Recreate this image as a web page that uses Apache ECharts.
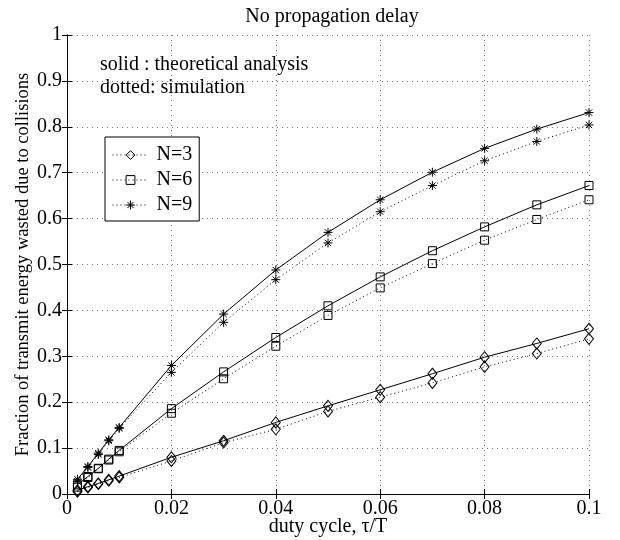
<!DOCTYPE html>
<html>
<head>
<meta charset="utf-8">
<script src="https://cdn.jsdelivr.net/npm/echarts@6/dist/echarts.min.js"></script>
<style>
  html, body { margin: 0; padding: 0; background: #fff; }
  #chart { width: 620px; height: 540px; }
</style>
</head>
<body>
<div id="chart"></div>
<script>
// Duty cycle values (tau/T) at which energy waste was evaluated
const duty = [0.002, 0.004, 0.006, 0.008, 0.01, 0.02, 0.03, 0.04, 0.05, 0.06, 0.07, 0.08, 0.09, 0.1];

// Theoretical analysis (solid lines)
const theoryN3 = [0.008, 0.016, 0.023, 0.031, 0.039, 0.080, 0.116, 0.156, 0.192, 0.227, 0.262, 0.298, 0.328, 0.360];
const theoryN6 = [0.020, 0.038, 0.056, 0.076, 0.095, 0.186, 0.266, 0.341, 0.410, 0.473, 0.530, 0.582, 0.630, 0.672];
const theoryN9 = [0.032, 0.060, 0.089, 0.118, 0.145, 0.280, 0.392, 0.488, 0.570, 0.641, 0.701, 0.753, 0.795, 0.831];

// Simulation results (dotted lines)
const simN3 = [0.005, 0.014, 0.022, 0.029, 0.036, 0.072, 0.112, 0.141, 0.180, 0.211, 0.242, 0.277, 0.306, 0.338];
const simN6 = [0.015, 0.036, 0.055, 0.074, 0.092, 0.176, 0.251, 0.322, 0.389, 0.449, 0.502, 0.553, 0.598, 0.641];
const simN9 = [0.028, 0.058, 0.086, 0.116, 0.143, 0.265, 0.374, 0.467, 0.547, 0.615, 0.672, 0.726, 0.768, 0.804];

const legendNames = ['N=3', 'N=6', 'N=9'];

const FONT = 'Liberation Serif';
const ASTERISK = 'path://M5,0L5,10M0,5L10,5M1.5,1.5L8.5,8.5M1.5,8.5L8.5,1.5';
const DOTS = [1, 3];

const pairs = arr => duty.map((d, i) => [d, arr[i]]);

function makeSeries(name, values, symbol, size, dotted) {
  return {
    name: name,
    type: 'line',
    data: pairs(values),
    symbol: symbol,
    symbolSize: size,
    showAllSymbol: true,
    animation: false,
    lineStyle: { color: '#000', width: 1, type: dotted ? DOTS : 'solid' },
    itemStyle: { color: 'rgba(0,0,0,0)', borderColor: '#000', borderWidth: 1 },
    emphasis: { disabled: true },
    z: dotted ? 3 : 4
  };
}

const chart = echarts.init(document.getElementById('chart'), null, { renderer: 'canvas' });

const axisCommon = {
  type: 'value',
  nameMoveOverlap: false,
  axisLine: { show: true, lineStyle: { color: '#000', width: 1 } },
  axisTick: { show: true, inside: true, length: 5, lineStyle: { color: '#000' } },
};

const gridDots = { show: true, lineStyle: { color: '#777', width: 1, type: [1, 4] } };

chart.setOption({
  backgroundColor: '#fff',
  animation: false,
  title: {
    text: 'No propagation delay',
    left: 327,
    top: 2,
    textAlign: 'center',
    textStyle: { fontFamily: FONT, fontSize: 20, fontWeight: 'normal', color: '#000' }
  },
  grid: { left: 67, right: 31, top: 35, bottom: 46, containLabel: false, outerBoundsMode: 'none' },
  legend: {
    data: legendNames,
    orient: 'vertical',
    left: 105,
    top: 137,
    padding: [8, 7, 6, 7],
    itemWidth: 36,
    itemHeight: 11,
    itemGap: 5,
    backgroundColor: '#fff',
    borderColor: '#000',
    borderWidth: 1,
    borderRadius: 0,
    selectedMode: false,
    itemStyle: { color: 'rgba(0,0,0,0)', borderColor: '#000', borderWidth: 1 },
    lineStyle: { color: '#000', width: 1, type: DOTS },
    textStyle: { fontFamily: FONT, fontSize: 20, color: '#000', padding: [0, 0, 0, 3] }
  },
  graphic: [
    {
      type: 'text', left: 100, top: 55,
      style: { text: 'solid : theoretical analysis', font: '20px "Liberation Serif"', fill: '#000' }
    },
    {
      type: 'text', left: 100, top: 78,
      style: { text: 'dotted: simulation', font: '20px "Liberation Serif"', fill: '#000' }
    }
  ],
  xAxis: [
    Object.assign({}, axisCommon, {
      min: 0, max: 0.1, interval: 0.02,
      name: 'duty cycle, τ/T',
      nameLocation: 'middle',
      nameGap: 23,
      nameTextStyle: { fontFamily: FONT, fontSize: 20, color: '#000' },
      axisLabel: { fontFamily: FONT, fontSize: 20, color: '#000', margin: 5,
        formatter: v => String(+v.toFixed(2)) },
      splitLine: gridDots
    }),
    Object.assign({}, axisCommon, {
      min: 0, max: 0.1, interval: 0.02, position: 'top',
      axisLabel: { show: false }, splitLine: { show: false }
    })
  ],
  yAxis: [
    Object.assign({}, axisCommon, {
      min: 0, max: 1, interval: 0.1,
      name: 'Fraction of transmit energy wasted due to collisions',
      nameLocation: 'middle',
      nameGap: 34,
      nameTextStyle: { fontFamily: FONT, fontSize: 18.5, color: '#000' },
      axisLabel: { fontFamily: FONT, fontSize: 20, color: '#000', margin: 5,
        formatter: v => String(+v.toFixed(1)) },
      splitLine: gridDots
    }),
    Object.assign({}, axisCommon, {
      min: 0, max: 1, interval: 0.1, position: 'right',
      axisLabel: { show: false }, splitLine: { show: false }
    })
  ],
  series: [
    makeSeries('theory N=3', theoryN3, 'diamond', [9, 11], false),
    makeSeries('theory N=6', theoryN6, 'rect', 8, false),
    makeSeries('theory N=9', theoryN9, ASTERISK, 9, false),
    makeSeries('N=3', simN3, 'diamond', [9, 11], true),
    makeSeries('N=6', simN6, 'rect', 8, true),
    makeSeries('N=9', simN9, ASTERISK, 9, true)
  ]
});
</script>
</body>
</html>
